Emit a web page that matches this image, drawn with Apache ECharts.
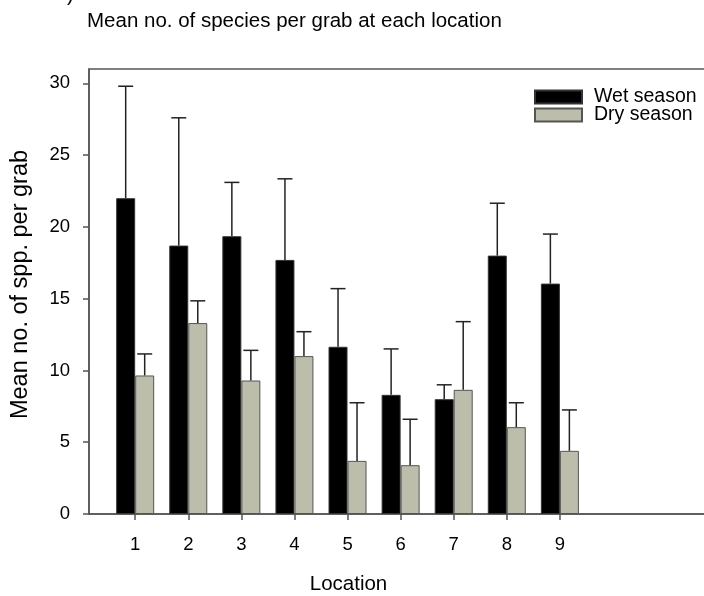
<!DOCTYPE html>
<html>
<head>
<meta charset="utf-8">
<script src="https://cdn.jsdelivr.net/npm/echarts@6/dist/echarts.min.js"></script>
<style>
  html, body { margin: 0; padding: 0; background: #fff; }
  #main { width: 704px; height: 596px; }
</style>
</head>
<body>
<div id="main"></div>
<script>
// locations and mean no. of species per grab (upper error only)
var locations = [1, 2, 3, 4, 5, 6, 7, 8, 9];
var wetMean = [22.0, 18.7, 19.35, 17.7, 11.65, 8.3, 8.0, 18.0, 16.05];
var wetErr  = [7.8, 8.9, 3.75, 5.65, 4.05, 3.2, 1.0, 3.65, 3.45];
var dryMean = [9.65, 13.3, 9.3, 11.0, 3.7, 3.4, 8.65, 6.05, 4.4];
var dryErr  = [1.5, 1.55, 2.1, 1.7, 4.05, 3.2, 4.75, 1.7, 2.85];
var yTicks = [0, 5, 10, 15, 20, 25, 30];

var FONT = '"Liberation Sans", Arial, sans-serif';
var BAR_W = 19;

function pairs(xs, ys) {
    return xs.map(function (x, i) { return [x, ys[i]]; });
}

// error bar data: [location, mean, mean+err, side]
function errData(means, errs, side) {
    return locations.map(function (x, i) {
        return [x, means[i], means[i] + errs[i], side];
    });
}

function renderErr(params, api) {
    var side = api.value(3);
    var base = api.coord([api.value(0), api.value(1)]);
    var top = api.coord([api.value(0), api.value(2)]);
    var cx = base[0] + side * BAR_W / 2;
    var style = { stroke: '#222', lineWidth: 1.5 };
    return {
        type: 'group',
        children: [
            { type: 'line', shape: { x1: cx, y1: base[1], x2: cx, y2: top[1] }, style: style },
            { type: 'line', shape: { x1: cx - 7.5, y1: top[1], x2: cx + 7.5, y2: top[1] }, style: style }
        ]
    };
}

var myChart = echarts.init(document.getElementById('main'));
var option = {
    animation: false,
    backgroundColor: '#fff',
    textStyle: { fontFamily: FONT },
    title: {
        text: 'Mean no. of species per grab at each location',
        left: 82,
        top: 6,
        textStyle: { fontFamily: FONT, fontSize: 20.5, fontWeight: 'normal', color: '#000' }
    },
    graphic: [
        { type: 'text', left: 67, top: -15, style: { text: ')', font: '20px ' + FONT, fill: '#000' } }
    ],
    legend: {
        orient: 'vertical',
        left: 529,
        top: 82,
        itemWidth: 47,
        itemHeight: 13,
        itemGap: -2,
        icon: 'rect',
        textStyle: { fontFamily: FONT, fontSize: 19.5, color: '#000', padding: [0, 0, 0, 7] },
        data: ['Wet season', 'Dry season']
    },
    grid: {
        left: 89,
        top: 69,
        width: 645,
        bottom: 82,
        show: true,
        borderColor: '#555',
        borderWidth: 1.5,
        containLabel: false,
        outerBoundsMode: 'none'
    },
    xAxis: {
        type: 'value',
        min: 0.13,
        max: 12.28,
        name: 'Location',
        nameLocation: 'middle',
        nameGap: 60,
        nameTextStyle: { fontFamily: FONT, fontSize: 20.5, color: '#000', padding: [0, 126, 0, 0] },
        axisLine: { show: true, lineStyle: { color: '#555', width: 1.5 } },
        axisTick: { show: true, length: 6, lineStyle: { color: '#555', width: 1.5 }, customValues: locations },
        axisLabel: { fontFamily: FONT, fontSize: 18.5, color: '#000', margin: 21, customValues: locations },
        splitLine: { show: false }
    },
    yAxis: {
        type: 'value',
        min: 0,
        max: 31,
        name: 'Mean no. of spp. per grab',
        nameLocation: 'middle',
        nameGap: 56,
        nameTextStyle: { fontFamily: FONT, fontSize: 23.5, color: '#000', padding: [0, 0, 0, 14] },
        axisLine: { show: true, lineStyle: { color: '#555', width: 1.5 } },
        axisTick: { show: true, length: 6, lineStyle: { color: '#555', width: 1.5 }, customValues: yTicks },
        axisLabel: { fontFamily: FONT, fontSize: 18.5, color: '#000', margin: 19, customValues: yTicks },
        splitLine: { show: false }
    },
    series: [
        {
            name: 'Wet season',
            type: 'bar',
            barWidth: BAR_W,
            barGap: '0%',
            itemStyle: { color: '#000', borderColor: '#333', borderWidth: 1 },
            data: pairs(locations, wetMean),
            z: 2
        },
        {
            name: 'Dry season',
            type: 'bar',
            barWidth: BAR_W,
            barGap: '0%',
            itemStyle: { color: '#bcbdaa', borderColor: '#555', borderWidth: 1 },
            data: pairs(locations, dryMean),
            z: 2
        },
        {
            type: 'custom',
            renderItem: renderErr,
            encode: { x: 0, y: [1, 2] },
            data: errData(wetMean, wetErr, -1),
            z: 3
        },
        {
            type: 'custom',
            renderItem: renderErr,
            encode: { x: 0, y: [1, 2] },
            data: errData(dryMean, dryErr, 1),
            z: 3
        }
    ]
};
myChart.setOption(option);
</script>
</body>
</html>
